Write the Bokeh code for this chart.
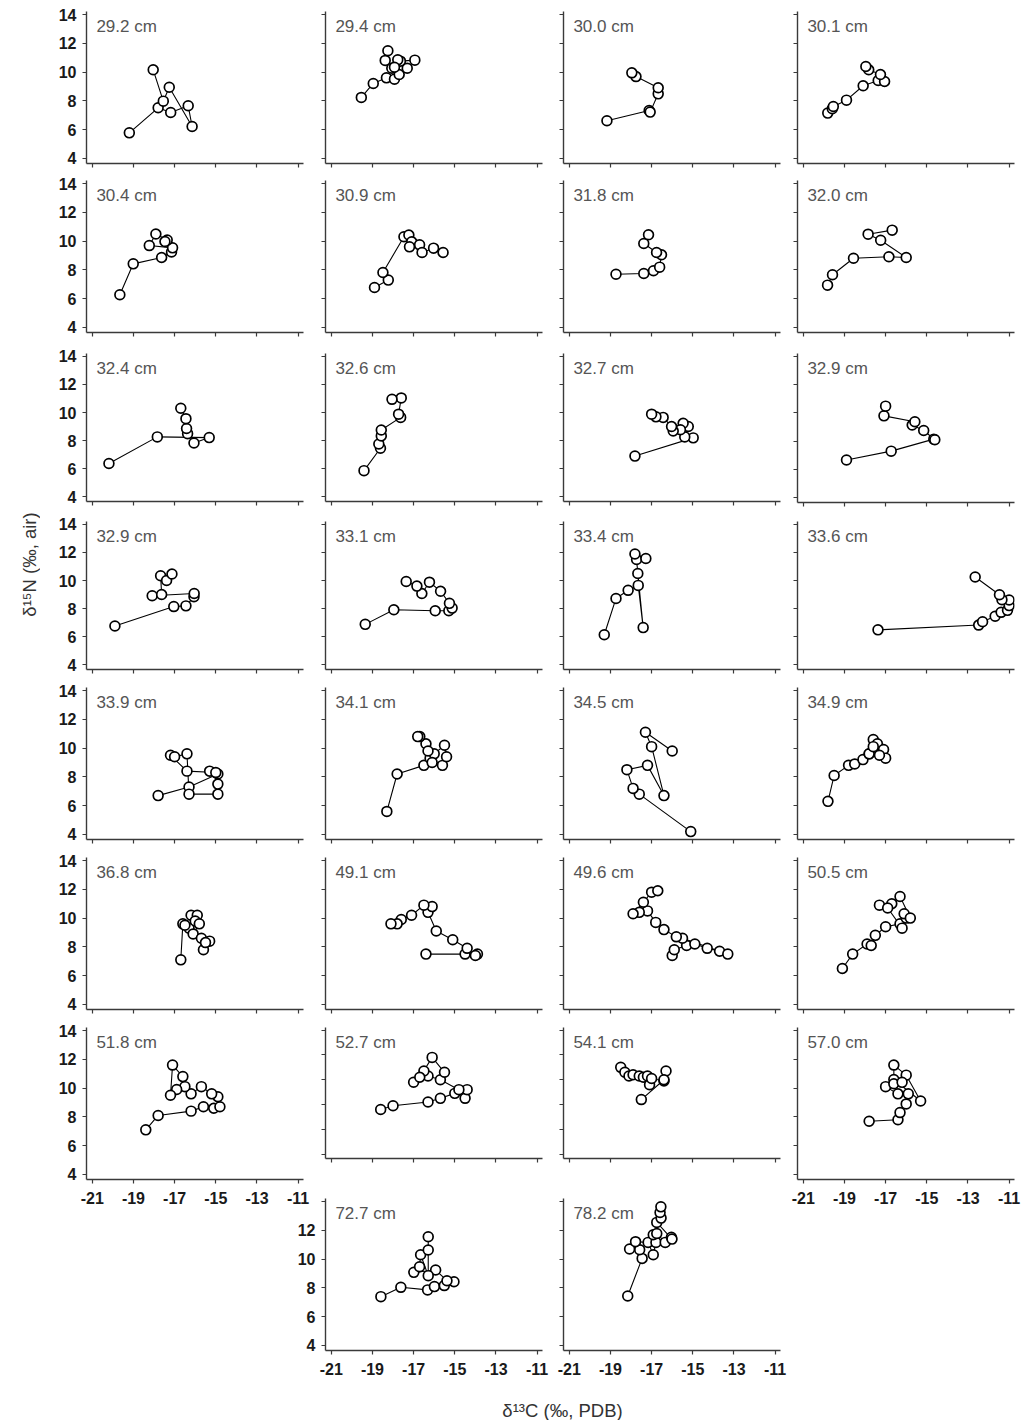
import math
from bokeh.plotting import figure
from bokeh.layouts import row, column
from bokeh.models import Range1d, Spacer, FixedTicker, Label
from bokeh.embed import file_html
from bokeh.resources import INLINE
from bokeh.core.properties import value

# ---------------- data (d13C, d15N per depth) ----------------
x_ticks = [-21, -19, -17, -15, -13, -11]
y_ticks = [4, 6, 8, 10, 12, 14]
x_tick_text = ["-21", "-19", "-17", "-15", "-13", "-11"]

c_292 = [-19.20, -17.80, -17.19, -16.34, -16.15, -17.26, -17.55, -18.04]
n_292 = [5.78, 7.52, 7.19, 7.66, 6.22, 8.95, 7.98, 10.16]
c_294 = [-19.54, -18.96, -18.32, -17.93, -17.70, -17.31, -16.94, -17.64, -17.77, -18.06, -17.93, -18.38, -18.25]
n_294 = [8.24, 9.21, 9.60, 9.51, 9.83, 10.27, 10.83, 10.76, 10.85, 10.27, 10.34, 10.81, 11.48]
c_300 = [-19.17, -17.12, -17.07, -16.68, -16.68, -17.76, -17.96]
n_300 = [6.62, 7.33, 7.22, 8.49, 8.91, 9.69, 9.95]
c_301 = [-19.81, -19.59, -19.54, -18.90, -18.09, -17.36, -17.05, -17.25, -17.82, -17.96]
n_301 = [7.15, 7.45, 7.61, 8.05, 9.05, 9.42, 9.35, 9.83, 10.16, 10.39]
c_304 = [-19.66, -19.01, -17.63, -17.15, -17.10, -18.23, -17.91, -17.36, -17.47]
n_304 = [6.27, 8.42, 8.86, 9.24, 9.53, 9.69, 10.49, 10.07, 9.97]
c_309 = [-18.90, -18.23, -18.49, -17.47, -17.23, -17.09, -17.20, -16.71, -16.59, -16.03, -15.57]
n_309 = [6.78, 7.29, 7.82, 10.30, 10.42, 9.95, 9.60, 9.74, 9.21, 9.51, 9.21]
c_318 = [-18.73, -17.38, -16.91, -16.61, -16.52, -16.76, -17.38, -17.15]
n_318 = [7.70, 7.75, 7.94, 8.19, 9.05, 9.21, 9.83, 10.44]
c_320 = [-19.82, -19.58, -18.56, -16.84, -16.00, -17.24, -17.85, -16.68]
n_320 = [6.94, 7.66, 8.81, 8.91, 8.86, 10.06, 10.48, 10.76]
c_324 = [-20.19, -17.84, -15.32, -16.06, -16.37, -16.42, -16.45, -16.70]
n_324 = [6.36, 8.26, 8.21, 7.82, 8.49, 8.86, 9.56, 10.30]
c_326 = [-19.41, -18.61, -18.69, -18.57, -18.57, -17.63, -17.73, -17.60, -18.05]
n_326 = [5.85, 7.45, 7.75, 8.33, 8.75, 9.65, 9.88, 11.04, 10.94]
c_327 = [-17.81, -14.98, -15.39, -15.22, -15.47, -15.60, -15.95, -16.03, -16.44, -16.79, -17.00]
n_327 = [6.89, 8.19, 8.26, 9.00, 9.23, 8.77, 8.68, 9.00, 9.65, 9.69, 9.88]
c_329a = [-18.90, -16.73, -14.66, -14.61, -15.15, -15.71, -15.58, -17.08, -17.00]
n_329a = [6.66, 7.29, 8.14, 8.10, 8.75, 9.14, 9.37, 9.79, 10.48]
c_329b = [-19.90, -17.04, -16.45, -16.06, -16.05, -18.09, -17.63, -17.68, -17.39, -17.13]
n_329b = [6.75, 8.14, 8.19, 8.84, 9.07, 8.91, 9.00, 10.34, 10.00, 10.46]
c_331 = [-19.35, -17.96, -15.95, -15.29, -15.13, -15.26, -15.69, -16.23, -16.60, -16.84, -17.36]
n_331 = [6.87, 7.91, 7.84, 7.84, 8.03, 8.37, 9.23, 9.88, 9.07, 9.60, 9.93]
c_334 = [-19.30, -18.73, -18.14, -17.65, -17.41, -17.67, -17.73, -17.81, -17.28]
n_334 = [6.13, 8.72, 9.30, 9.65, 6.64, 10.50, 11.50, 11.89, 11.57]
c_336 = [-17.37, -12.48, -12.29, -11.68, -11.39, -11.08, -11.00, -11.00, -11.35, -11.47, -12.65]
n_336 = [6.48, 6.82, 7.06, 7.45, 7.73, 7.87, 8.21, 8.61, 8.63, 8.98, 10.25]
c_339 = [-17.8, -16.3, -14.9, -15.3, -15.0, -16.4, -17.2, -17.0, -16.4, -16.3, -14.9, -14.9]
n_339 = [6.7, 7.3, 8.2, 8.4, 8.3, 8.4, 9.5, 9.4, 9.6, 6.8, 6.8, 7.5]
c_341 = [-18.3, -17.8, -16.5, -16.2, -15.6, -15.4, -15.5, -16.0, -16.1, -16.4, -16.7, -16.8, -16.3]
n_341 = [5.6, 8.2, 8.8, 9.3, 8.8, 9.4, 10.2, 9.6, 9.0, 10.3, 10.8, 10.8, 9.8]
c_345 = [-15.1, -17.6, -17.9, -18.2, -17.2, -16.4, -17.0, -17.3, -16.0]
n_345 = [4.2, 6.8, 7.2, 8.5, 8.8, 6.7, 10.1, 11.1, 9.8]
c_349 = [-19.8, -19.5, -18.8, -18.5, -18.1, -17.8, -17.6, -17.4, -17.1, -17.0, -17.3, -17.8, -17.6]
n_349 = [6.3, 8.1, 8.8, 8.9, 9.2, 9.6, 10.6, 10.3, 9.9, 9.3, 9.5, 9.6, 10.1]
c_368 = [-16.7, -16.6, -16.3, -16.5, -16.2, -15.9, -16.0, -15.8, -16.1, -15.7, -15.6, -15.3, -15.5]
n_368 = [7.1, 9.6, 9.3, 9.5, 10.2, 10.2, 9.8, 9.6, 8.9, 8.6, 7.8, 8.4, 8.3]
c_491 = [-16.4, -14.5, -13.9, -14.0, -14.4, -15.1, -15.9, -16.3, -16.1, -16.5, -17.1, -17.6, -17.8, -18.1]
n_491 = [7.5, 7.5, 7.5, 7.4, 7.9, 8.5, 9.1, 10.4, 10.8, 10.9, 10.2, 9.9, 9.6, 9.6]
c_496 = [-16.0, -15.9, -15.3, -14.9, -14.3, -13.7, -13.3, -15.5, -15.8, -16.4, -16.8, -17.2, -17.6, -17.9, -17.4, -17.0, -16.7]
n_496 = [7.4, 7.8, 8.1, 8.2, 7.9, 7.7, 7.5, 8.6, 8.7, 9.2, 9.7, 10.5, 10.4, 10.3, 11.1, 11.8, 11.9]
c_505 = [-19.1, -18.6, -17.9, -17.7, -17.5, -17.0, -16.3, -16.0, -16.1, -15.8, -16.3, -16.7, -17.3, -16.9, -16.2]
n_505 = [6.5, 7.5, 8.2, 8.1, 8.8, 9.4, 9.6, 10.0, 10.3, 10.0, 11.5, 11.0, 10.9, 10.7, 9.3]
c_518 = [-18.4, -17.8, -16.2, -15.6, -15.1, -14.8, -14.9, -15.2, -15.7, -16.2, -16.5, -16.9, -17.2, -17.1, -16.6]
n_518 = [7.1, 8.1, 8.4, 8.7, 8.6, 8.7, 9.4, 9.6, 10.1, 9.6, 10.1, 9.9, 9.5, 11.6, 10.8]
c_527 = [-18.6, -18.0, -16.3, -15.7, -15.0, -14.5, -14.4, -14.8, -15.7, -16.3, -16.5, -17.0, -16.7, -16.1, -15.5]
n_527 = [7.6, 7.9, 8.2, 8.5, 8.9, 8.5, 9.2, 9.2, 10.0, 10.3, 10.7, 9.8, 10.2, 11.8, 10.6]
c_541 = [-18.5, -18.3, -18.1, -17.9, -17.6, -17.4, -17.2, -17.1, -17.0, -16.4, -16.3, -16.4, -17.5]
n_541 = [11.0, 10.6, 10.3, 10.4, 10.3, 10.2, 10.3, 9.6, 10.1, 9.9, 10.7, 10.0, 8.4]
c_570 = [-17.8, -16.4, -16.3, -16.0, -15.9, -16.4, -17.0, -16.6, -15.3, -16.0, -16.6, -16.6, -16.2]
n_570 = [7.7, 7.8, 8.3, 8.9, 9.6, 9.6, 10.1, 10.6, 9.1, 10.9, 11.6, 10.3, 10.4]
c_727 = [-18.59, -17.62, -16.32, -15.99, -15.51, -15.04, -15.38, -15.93, -16.99, -16.71, -16.66, -16.29, -16.29, -16.29]
n_727 = [7.39, 8.04, 7.86, 8.09, 8.16, 8.43, 8.50, 9.24, 9.08, 9.47, 10.30, 8.85, 10.63, 11.55]
c_782 = [-18.16, -17.46, -17.58, -18.07, -17.78, -17.17, -16.92, -16.79, -16.92, -16.75, -16.34, -16.04, -16.01, -16.75, -16.54, -16.59, -16.55]
n_782 = [7.44, 10.05, 10.65, 10.70, 11.21, 11.16, 10.30, 11.16, 11.69, 11.78, 11.16, 11.51, 11.39, 12.55, 12.85, 13.24, 13.63]

labels = ["29.2 cm", "29.4 cm", "30.0 cm", "30.1 cm",
          "30.4 cm", "30.9 cm", "31.8 cm", "32.0 cm",
          "32.4 cm", "32.6 cm", "32.7 cm", "32.9 cm",
          "32.9 cm", "33.1 cm", "33.4 cm", "33.6 cm",
          "33.9 cm", "34.1 cm", "34.5 cm", "34.9 cm",
          "36.8 cm", "49.1 cm", "49.6 cm", "50.5 cm",
          "51.8 cm", "52.7 cm", "54.1 cm", "57.0 cm",
          "72.7 cm", "78.2 cm"]
series = [(c_292, n_292), (c_294, n_294), (c_300, n_300), (c_301, n_301),
          (c_304, n_304), (c_309, n_309), (c_318, n_318), (c_320, n_320),
          (c_324, n_324), (c_326, n_326), (c_327, n_327), (c_329a, n_329a),
          (c_329b, n_329b), (c_331, n_331), (c_334, n_334), (c_336, n_336),
          (c_339, n_339), (c_341, n_341), (c_345, n_345), (c_349, n_349),
          (c_368, n_368), (c_491, n_491), (c_496, n_496), (c_505, n_505),
          (c_518, n_518), (c_527, n_527), (c_541, n_541), (c_570, n_570),
          (c_727, n_727), (c_782, n_782)]

# ---------------- layout constants ----------------
X0 = 40                      # width of y-label strip
FW, FH = 217, 152            # frame size
COL_LEFT = [86, 325, 563, 797]
ROW_TOP = [11, 180, 349, 517, 687, 857, 1027, 1198]
XR = (-21.28, -10.74)
YR = (3.65, 14.21)
AX_COL = "#3a3a3a"
TICK_FONT = "Liberation Sans"

grid_pos = []  # (row, col) for each panel
for i in range(28):
    grid_pos.append((i // 4, i % 4))
grid_pos.append((7, 1))
grid_pos.append((7, 2))


def make_panel(idx, bl, br, bt, bb, show_x, show_y, hide14=False):
    xs, ys = series[idx]
    p = figure(width=bl + FW + br, height=bt + FH + bb,
               x_range=Range1d(*XR), y_range=Range1d(*YR),
               output_backend="svg", toolbar_location=None,
               min_border_left=bl, min_border_right=br,
               min_border_top=bt, min_border_bottom=bb)
    p.outline_line_color = None
    p.background_fill_color = None
    p.border_fill_color = None
    p.xgrid.visible = False
    p.ygrid.visible = False
    p.xaxis.ticker = FixedTicker(ticks=x_ticks)
    p.yaxis.ticker = FixedTicker(ticks=y_ticks)
    for ax in list(p.xaxis) + list(p.yaxis):
        ax.axis_line_color = AX_COL
        ax.axis_line_width = 1.4
        ax.major_tick_line_color = AX_COL
        ax.major_tick_line_width = 1.2
        ax.major_tick_out = 4
        ax.major_tick_in = 0
        ax.minor_tick_line_color = None
        ax.major_label_text_font = TICK_FONT
        ax.major_label_text_font_style = "bold"
        ax.major_label_text_color = "#1a1a1a"
        ax.major_label_text_font_size = "16px"
    if show_x:
        p.xaxis.major_label_standoff = 8
        p.xaxis.major_label_overrides = dict(zip(x_ticks, x_tick_text))
    else:
        p.xaxis.major_label_text_font_size = "0px"
        p.xaxis.major_label_text_color = None
        p.xaxis.major_label_standoff = 0
    if show_y:
        p.yaxis.major_label_standoff = 6
        if hide14:
            p.yaxis.major_label_overrides = {14: ""}
    else:
        p.yaxis.major_label_text_font_size = "0px"
        p.yaxis.major_label_text_color = None
        p.yaxis.major_label_standoff = 0
    p.line(xs, ys, line_color="black", line_width=1.1)
    p.scatter(xs, ys, marker="circle", size=9.8, fill_color="white",
              line_color="black", line_width=1.7)
    p.add_layout(Label(x=-20.8, y=13.8, text=labels[idx],
                       text_font=TICK_FONT, text_font_size="17px",
                       text_color="#555555", text_baseline="top"))
    return p


rows_layout = [Spacer(width=10, height=ROW_TOP[0] - 8)]
prev_bottom = ROW_TOP[0] - 8
for r in range(8):
    items = [(i, c) for i, (rr, c) in enumerate(grid_pos) if rr == r]
    children = []
    cur = X0
    row_h = 0
    for idx, c in items:
        show_y = (c == 0) or (r == 7 and c == 1)
        show_x = (r == 7) or (r == 6 and c in (0, 3))
        hide14 = (r == 7 and c == 1)
        if c == 0:
            bl = COL_LEFT[0] - X0
        elif hide14:
            bl = 44
        else:
            bl = 9
        br = 8
        bt = 8
        shift = 4 if (c == 3 and r in (2, 3)) else 0
        bt += shift
        if show_x:
            bb = 32
        else:
            pitch = ROW_TOP[r + 1] - ROW_TOP[r] if r < 7 else 168
            bb = max(pitch - 8 - FH - shift, 5)
        start = COL_LEFT[c] - bl
        if start < cur:
            bl -= (cur - start)
            start = cur
        if start > cur:
            children.append(Spacer(width=start - cur, height=5))
        p = make_panel(idx, bl, br, bt, bb, show_x, show_y, hide14)
        children.append(p)
        cur = COL_LEFT[c] + FW + br
        row_h = max(row_h, bt + FH + bb)
    top_target = ROW_TOP[r] - 8
    margin_top = top_target - prev_bottom
    rw = row(*children, margin=(margin_top, 0, 0, 0))
    rows_layout.append(rw)
    prev_bottom = top_target + row_h

# x-axis title strip
xl_h = 1420 - prev_bottom
xl = figure(width=1020 - X0, height=xl_h, x_range=Range1d(X0, 1020),
            y_range=Range1d(prev_bottom + xl_h, prev_bottom),
            output_backend="svg", toolbar_location=None,
            x_axis_type=None, y_axis_type=None, min_border=0)
xl.outline_line_color = None
xl.grid.visible = False
xl.text(x=[562], y=[1410], text=["δ¹³C (‰, PDB)"], text_align="center",
        text_baseline="middle", text_font=value("Liberation Sans"),
        text_font_size="18.5px", text_color="#333333")
rows_layout.append(xl)

main_col = column(*rows_layout)

yl = figure(width=X0, height=1420, x_range=Range1d(0, X0),
            y_range=Range1d(1420, 0), output_backend="svg",
            toolbar_location=None, x_axis_type=None, y_axis_type=None,
            min_border=0)
yl.outline_line_color = None
yl.grid.visible = False
yl.text(x=[29], y=[564], text=["δ¹⁵N (‰, air)"], angle=math.pi / 2,
        text_align="center", text_baseline="middle",
        text_font=value("Liberation Sans"), text_font_size="18.5px",
        text_color="#333333")

page = row(yl, main_col)
open("out.html", "w").write(file_html(page, INLINE))
